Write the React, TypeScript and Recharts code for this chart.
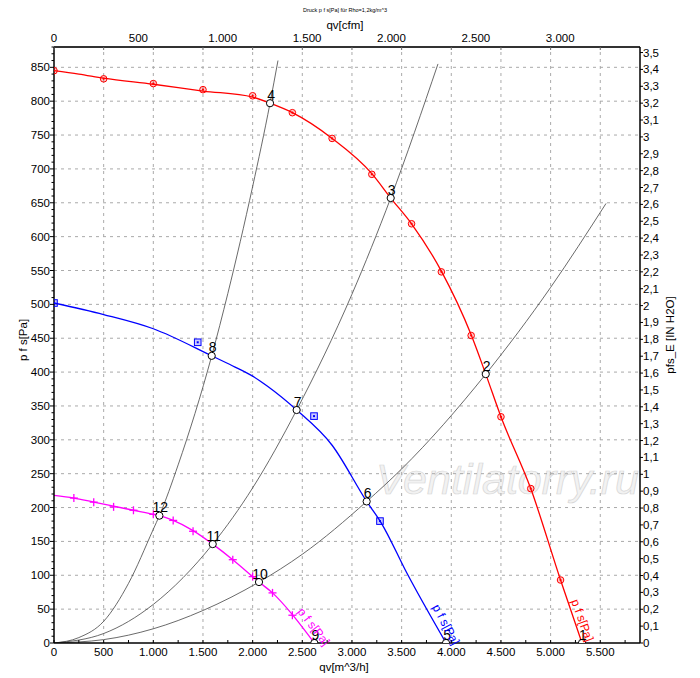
import React from 'react';
import {
  ComposedChart,
  Line,
  Scatter,
  XAxis,
  YAxis,
  ReferenceLine,
  ReferenceDot,
} from 'recharts';

// axis ranges
const X_MAX = 5900; // m^3/h
const Y_MAX = 880; // Pa
const M3H_PER_CFM = 1.699;
const PA_PER_INH2O = 249.09;

// tick values
const m3hLabels = [0, 500, 1000, 1500, 2000, 2500, 3000, 3500, 4000, 4500, 5000, 5500];
const m3hTicks = Array.from({ length: 24 }, (_, i) => i * 250);
const cfmLabels = [0, 500, 1000, 1500, 2000, 2500, 3000];
const paLabels = [0, 50, 100, 150, 200, 250, 300, 350, 400, 450, 500, 550, 600, 650, 700, 750, 800, 850];
const paTicks = Array.from({ length: 89 }, (_, i) => i * 10);
const inTicks = Array.from({ length: 36 }, (_, i) => i / 10);

// fan curve, p f s [Pa] (red)
const redCurve = [
  { x: 0, y: 845 }, { x: 250, y: 840 }, { x: 500, y: 834 }, { x: 1000, y: 825 },
  { x: 1500, y: 815 }, { x: 2000, y: 806 }, { x: 2175, y: 797 }, { x: 2400, y: 783 },
  { x: 2800, y: 745 }, { x: 3200, y: 693 }, { x: 3390, y: 657 }, { x: 3600, y: 619 },
  { x: 3900, y: 549 }, { x: 4200, y: 455 }, { x: 4347, y: 397 }, { x: 4500, y: 334 },
  { x: 4800, y: 228 }, { x: 5100, y: 93 }, { x: 5316, y: 0 },
];
const redMarks = [
  { x: 0, y: 845 }, { x: 500, y: 833 }, { x: 1000, y: 826 }, { x: 1500, y: 817 },
  { x: 2000, y: 808 }, { x: 2400, y: 783 }, { x: 2800, y: 745 }, { x: 3200, y: 692 },
  { x: 3600, y: 619 }, { x: 3900, y: 548 }, { x: 4200, y: 454 }, { x: 4500, y: 334 },
  { x: 4800, y: 228 }, { x: 5100, y: 93 },
];

// blue
const blueCurve = [
  { x: 0, y: 502 }, { x: 500, y: 485 }, { x: 1000, y: 464 }, { x: 1588, y: 424 },
  { x: 1800, y: 409 }, { x: 2000, y: 394 }, { x: 2150, y: 379 }, { x: 2443, y: 344 },
  { x: 2800, y: 292 }, { x: 3148, y: 209 }, { x: 3300, y: 176 }, { x: 3550, y: 104 },
  { x: 3947, y: 0 },
];
const blueMarks = [
  { x: 0, y: 502 }, { x: 1447, y: 444 }, { x: 2618, y: 335 }, { x: 3282, y: 180 },
];

// magenta
const pinkCurve = [
  { x: 0, y: 218 }, { x: 200, y: 214 }, { x: 400, y: 208 }, { x: 600, y: 202 },
  { x: 800, y: 196 }, { x: 1000, y: 190 }, { x: 1061, y: 188 }, { x: 1200, y: 181 },
  { x: 1400, y: 166 }, { x: 1598, y: 146 }, { x: 1800, y: 123 }, { x: 2000, y: 98 },
  { x: 2064, y: 90 }, { x: 2200, y: 74 }, { x: 2400, y: 42 }, { x: 2621, y: 0 },
];
const pinkMarks = [
  { x: 200, y: 214 }, { x: 400, y: 208 }, { x: 600, y: 201 }, { x: 800, y: 196 },
  { x: 1000, y: 190 }, { x: 1200, y: 181 }, { x: 1400, y: 165 }, { x: 1800, y: 123 },
  { x: 2000, y: 98 }, { x: 2200, y: 74 }, { x: 2400, y: 41 },
];

// system curves (grey)
const sysA = [
  { x: 0, y: 0 }, { x: 250, y: 8 }, { x: 500, y: 32 }, { x: 750, y: 88 },
  { x: 1000, y: 168 }, { x: 1061, y: 188 }, { x: 1250, y: 263 }, { x: 1588, y: 424 },
  { x: 1750, y: 516 }, { x: 2000, y: 674 }, { x: 2175, y: 797 }, { x: 2255, y: 860 },
];
const sysB = [
  { x: 0, y: 0 }, { x: 500, y: 14 }, { x: 1000, y: 57 }, { x: 1598, y: 146 },
  { x: 2000, y: 229 }, { x: 2443, y: 344 }, { x: 3000, y: 515 }, { x: 3390, y: 657 },
  { x: 3866, y: 855 },
];
const sysC = [
  { x: 0, y: 0 }, { x: 500, y: 5 }, { x: 1000, y: 21 }, { x: 1500, y: 48 },
  { x: 2064, y: 90 }, { x: 2500, y: 131 }, { x: 3148, y: 209 }, { x: 3500, y: 257 },
  { x: 4347, y: 397 }, { x: 5000, y: 525 }, { x: 5558, y: 649 },
];

// operating points
const opPoints = [
  { x: 5316, y: 0, n: '1' }, { x: 4347, y: 397, n: '2' }, { x: 3390, y: 657, n: '3' },
  { x: 2175, y: 797, n: '4' }, { x: 3947, y: 0, n: '5' }, { x: 3148, y: 209, n: '6' },
  { x: 2443, y: 344, n: '7' }, { x: 1588, y: 424, n: '8' }, { x: 2621, y: 0, n: '9' },
  { x: 2064, y: 90, n: '10' }, { x: 1598, y: 146, n: '11' }, { x: 1061, y: 188, n: '12' },
];

const FONT = 'Arial, "Liberation Sans", sans-serif';
const PLOT_LEFT = 54;
const PLOT_RIGHT = 640;
const PLOT_TOP = 47;
const PLOT_BOTTOM = 643;

const fmtDot = (v: number) => String(Math.round(v)).replace(/\B(?=(\d{3})+(?!\d))/g, '.');
const fmtComma = (v: number) => String(Math.round(v * 10) / 10).replace('.', ',');

const BottomTick = (props: any) => {
  const { x, payload } = props;
  const v = payload.value;
  const major = v % 500 === 0;
  return (
    <g>
      <line x1={x} x2={x} y1={PLOT_BOTTOM} y2={PLOT_BOTTOM - 3} stroke="#000" />
      {major && <line x1={x} x2={x} y1={PLOT_TOP} y2={PLOT_TOP + 3} stroke="#666" />}
      {major && (
        <text x={x} y={656} textAnchor="middle" fontSize={11.5} fontFamily={FONT} fill="#000">
          {fmtDot(v)}
        </text>
      )}
    </g>
  );
};

const TopTick = (props: any) => {
  const { x, payload } = props;
  return (
    <text x={x} y={42} textAnchor="middle" fontSize={11.5} fontFamily={FONT} fill="#000">
      {fmtDot(payload.value)}
    </text>
  );
};

const LeftTick = (props: any) => {
  const { y, payload } = props;
  const v = payload.value;
  const major = v % 50 === 0;
  return (
    <g>
      <line x1={PLOT_LEFT - (major ? 4 : 2.5)} x2={PLOT_LEFT} y1={y} y2={y} stroke="#000" />
      {major && (
        <text x={50} y={y + 4} textAnchor="end" fontSize={11.5} fontFamily={FONT} fill="#000">
          {v}
        </text>
      )}
    </g>
  );
};

const RightTick = (props: any) => {
  const { y, payload } = props;
  return (
    <g>
      <line x1={PLOT_RIGHT} x2={PLOT_RIGHT + 3} y1={y} y2={y} stroke="#000" />
      <text x={PLOT_RIGHT + 3} y={y + 4} textAnchor="start" fontSize={11.5} fontFamily={FONT} fill="#000">
        {fmtComma(payload.value)}
      </text>
    </g>
  );
};

const RedDot = ({ cx, cy }: any) => (
  <g>
    <circle cx={cx} cy={cy} r={3.3} fill="rgba(255,0,0,0.2)" stroke="#ff0000" strokeWidth={1} />
    <circle cx={cx} cy={cy} r={1.1} fill="#ff0000" />
  </g>
);

const BlueDot = ({ cx, cy }: any) => (
  <g>
    <rect x={cx - 3.3} y={cy - 3.3} width={6.6} height={6.6} fill="rgba(0,0,255,0.2)" stroke="#0000ff" strokeWidth={1} />
    <rect x={cx - 1} y={cy - 1} width={2} height={2} fill="#0000ff" />
  </g>
);

const PinkDot = ({ cx, cy }: any) => (
  <g stroke="#ff00ff" strokeWidth={1.3}>
    <line x1={cx - 4} x2={cx + 4} y1={cy} y2={cy} />
    <line x1={cx} x2={cx} y1={cy - 4} y2={cy + 4} />
  </g>
);

const OpPoint = ({ cx, cy, payload }: any) => (
  <g>
    <circle cx={cx} cy={cy} r={3.6} fill="#fff" stroke="#000" strokeWidth={1} />
    <text x={cx + 1} y={cy - 3.5} textAnchor="middle" fontSize={14} fontFamily={FONT} fill="#000">
      {payload.n}
    </text>
  </g>
);

const curveLabel = (color: string, angle: number) => (p: any) => (
  <text
    x={p.cx}
    y={p.cy}
    transform={`rotate(${angle} ${p.cx} ${p.cy})`}
    fontSize={12}
    fontFamily={FONT}
    fill={color}
  >
    p f s[Pa]
  </text>
);

// keeps the cfm axis bound to an item so it is rendered
const cfmAnchor = [{ x: 0, y: 0 }];

export default function App() {
  return (
    <div style={{ position: 'absolute', left: 0, top: 0, width: 700, height: 678, background: '#fff' }}>
      <svg width={700} height={678} style={{ position: 'absolute', left: 0, top: 0 }}>
        <text
          x={376}
          y={494}
          fontSize={43}
          fontStyle="italic"
          fontFamily={FONT}
          fill="#f2f2f2"
          stroke="#d6d6d6"
          strokeWidth={0.7}
        >
          Ventilatorry.ru
        </text>
      </svg>
      <div style={{ position: 'absolute', left: 0, top: 0 }}>
        <ComposedChart width={700} height={678} margin={{ top: 0, right: 0, bottom: 0, left: 0 }}>
          <XAxis
            xAxisId="m3h"
            dataKey="x"
            type="number"
            orientation="bottom"
            height={35}
            domain={[0, X_MAX]}
            ticks={m3hTicks}
            interval={0}
            allowDataOverflow
            tickLine={false}
            tick={BottomTick}
            axisLine={{ stroke: '#000', strokeWidth: 1.5 }}
          />
          <XAxis
            xAxisId="cfm"
            dataKey="x"
            type="number"
            orientation="top"
            height={47}
            domain={[0, X_MAX / M3H_PER_CFM]}
            ticks={cfmLabels}
            interval={0}
            allowDataOverflow
            tickLine={false}
            tick={TopTick}
            axisLine={{ stroke: '#333', strokeWidth: 2 }}
          />
          <YAxis
            yAxisId="pa"
            type="number"
            orientation="left"
            width={54}
            domain={[0, Y_MAX]}
            ticks={paTicks}
            interval={0}
            allowDataOverflow
            tickLine={false}
            tick={LeftTick}
            axisLine={{ stroke: '#000', strokeWidth: 1.5 }}
          />
          <YAxis
            yAxisId="in"
            type="number"
            orientation="right"
            width={60}
            domain={[0, Y_MAX / PA_PER_INH2O]}
            ticks={inTicks}
            interval={0}
            allowDataOverflow
            tickLine={false}
            tick={RightTick}
            axisLine={{ stroke: '#000', strokeWidth: 1.5 }}
          />

          {m3hLabels.slice(1).map((v) => (
            <ReferenceLine key={'vx' + v} xAxisId="m3h" yAxisId="pa" x={v} stroke="#aaa" strokeDasharray="3 4" />
          ))}
          {paLabels.slice(1).map((v) => (
            <ReferenceLine key={'hy' + v} xAxisId="m3h" yAxisId="pa" y={v} stroke="#aaa" strokeDasharray="3 4" />
          ))}

          {[sysA, sysB, sysC].map((d, i) => (
            <Line
              key={'sys' + i}
              xAxisId="m3h"
              yAxisId="pa"
              data={d}
              dataKey="y"
              type="monotone"
              stroke="#444"
              strokeWidth={0.8}
              dot={false}
              isAnimationActive={false}
            />
          ))}
          <Line xAxisId="m3h" yAxisId="pa" data={redCurve} dataKey="y" type="monotone" stroke="#ff0000" strokeWidth={1.3} dot={false} isAnimationActive={false} />
          <Line xAxisId="m3h" yAxisId="pa" data={blueCurve} dataKey="y" type="monotone" stroke="#0000ff" strokeWidth={1.3} dot={false} isAnimationActive={false} />
          <Line xAxisId="m3h" yAxisId="pa" data={pinkCurve} dataKey="y" type="monotone" stroke="#ff00ff" strokeWidth={1.3} dot={false} isAnimationActive={false} />

          <Scatter xAxisId="cfm" yAxisId="pa" data={cfmAnchor} dataKey="y" shape={() => <g />} isAnimationActive={false} />
          <Scatter xAxisId="m3h" yAxisId="pa" data={redMarks} dataKey="y" shape={RedDot} isAnimationActive={false} />
          <Scatter xAxisId="m3h" yAxisId="pa" data={blueMarks} dataKey="y" shape={BlueDot} isAnimationActive={false} />
          <Scatter xAxisId="m3h" yAxisId="pa" data={pinkMarks} dataKey="y" shape={PinkDot} isAnimationActive={false} />
          <Scatter xAxisId="m3h" yAxisId="pa" data={opPoints} dataKey="y" shape={OpPoint} isAnimationActive={false} />

          <ReferenceDot xAxisId="m3h" yAxisId="pa" x={2447} y={46} r={0} shape={curveLabel('#ff00ff', 52)} />
          <ReferenceDot xAxisId="m3h" yAxisId="pa" x={3806} y={53} r={0} shape={curveLabel('#0000ff', 62)} />
          <ReferenceDot xAxisId="m3h" yAxisId="pa" x={5205} y={62} r={0} shape={curveLabel('#ff0000', 70)} />
        </ComposedChart>
      </div>
      <svg width={700} height={678} style={{ position: 'absolute', left: 0, top: 0, pointerEvents: 'none' }}>
        <text x={345} y={12} textAnchor="middle" fontSize={5.5} fontFamily={FONT} fill="#000">
          Druck p f s[Pa] für Rho=1,2kg/m^3
        </text>
        <text x={345} y={29} textAnchor="middle" fontSize={11.5} fontFamily={FONT} fill="#000">
          qv[cfm]
        </text>
        <text x={344} y={671} textAnchor="middle" fontSize={11.5} fontFamily={FONT} fill="#000">
          qv[m^3/h]
        </text>
        <text x={27} y={340} textAnchor="middle" fontSize={11.5} fontFamily={FONT} fill="#000" transform="rotate(-90 27 340)">
          p f s[Pa]
        </text>
        <text x={674} y={335} textAnchor="middle" fontSize={11.5} fontFamily={FONT} fill="#000" transform="rotate(-90 674 335)">
          pfs_E [IN H2O]
        </text>
      </svg>
    </div>
  );
}
